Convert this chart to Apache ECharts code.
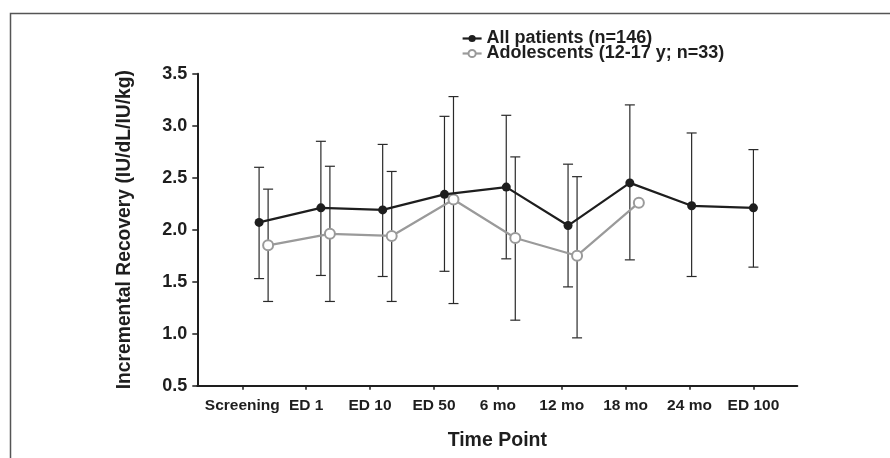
<!DOCTYPE html>
<html>
<head>
<meta charset="utf-8">
<script src="https://cdn.jsdelivr.net/npm/echarts@6/dist/echarts.min.js"></script>
<style>
html,body{margin:0;padding:0;background:#fff;}
#chart{width:890px;height:458px;}
</style>
</head>
<body>
<div id="chart"></div>
<script>
// ---- data ----
const categories = ['Screening', 'ED 1', 'ED 10', 'ED 50', '6 mo', '12 mo', '18 mo', '24 mo', 'ED 100'];
const allMean  = [2.07, 2.21, 2.19, 2.34, 2.41, 2.04, 2.45, 2.23, 2.21];
const allUpper = [2.60, 2.85, 2.82, 3.09, 3.10, 2.63, 3.20, 2.93, 2.77];
const allLower = [1.53, 1.56, 1.55, 1.60, 1.72, 1.45, 1.71, 1.55, 1.64];
const adolMean  = [1.85, 1.96, 1.94, 2.29, 1.92, 1.75, 2.26];
const adolUpper = [2.39, 2.61, 2.56, 3.28, 2.70, 2.51, null];
const adolLower = [1.31, 1.31, 1.31, 1.29, 1.13, 0.96, null];
const yTicks = [0.5, 1.0, 1.5, 2.0, 2.5, 3.0, 3.5];
const seriesNames = ['All patients (n=146)', 'Adolescents (12-17 y; n=33)'];

// ---- layout / style constants ----
const ADOL_SHIFT = 0.146;           // horizontal dodge of the adolescent series (in category units)
const FONT = '"Liberation Sans", Arial, sans-serif';
const INK = '#1e1e1e';
const GREY = '#9a9a9a';

const allPts = allMean.map((v, i) => [i, v]);
const adolPts = adolMean.map((v, i) => [i + ADOL_SHIFT, v]);
const allErr = allMean.map((v, i) => [i, allLower[i], allUpper[i]]);
const adolErr = adolMean
  .map((v, i) => [i + ADOL_SHIFT, adolLower[i], adolUpper[i]])
  .filter(d => d[1] != null && d[2] != null);

function errorBar(params, api) {
  const x = api.value(0);
  const lo = api.coord([x, api.value(1)]);
  const hi = api.coord([x, api.value(2)]);
  const w = 5;
  const style = { stroke: '#2a2a2a', lineWidth: 1.2, fill: null };
  return {
    type: 'group',
    children: [
      { type: 'line', shape: { x1: lo[0], y1: lo[1], x2: hi[0], y2: hi[1] }, style },
      { type: 'line', shape: { x1: lo[0] - w, y1: lo[1], x2: lo[0] + w, y2: lo[1] }, style },
      { type: 'line', shape: { x1: hi[0] - w, y1: hi[1], x2: hi[0] + w, y2: hi[1] }, style }
    ]
  };
}

const legendText = { fontFamily: FONT, fontWeight: 'bold', fontSize: 18, color: INK };

const chart = echarts.init(document.getElementById('chart'), null, { renderer: 'canvas' });
chart.setOption({
  animation: false,
  backgroundColor: '#fff',
  graphic: [{
    type: 'polyline',
    shape: { points: [[10.5, 458], [10.5, 13.5], [890, 13.5]] },
    style: { stroke: '#555', lineWidth: 1.5, fill: null },
    silent: true
  }],
  legend: [
    {
      orient: 'vertical', left: 461.5, top: 29.5, padding: 0,
      itemWidth: 19, itemHeight: 9, itemGap: 0,
      lineStyle: { width: 2.2 },
      data: [seriesNames[0]], textStyle: legendText
    },
    {
      orient: 'vertical', left: 461.5, top: 44.5, padding: 0,
      itemWidth: 19, itemHeight: 9, itemGap: 0,
      lineStyle: { width: 2.2 },
      data: [seriesNames[1]], textStyle: legendText
    }
  ],
  grid: [
    { left: 197.3, right: 92.7, top: 73.7, bottom: 72.3, containLabel: false },
    { left: 210.35, width: 575, top: 73.7, bottom: 72.3, containLabel: false }
  ],
  xAxis: [
    {
      type: 'value', gridIndex: 0, min: -1, max: 8.71,
      axisLine: { show: true, onZero: false, lineStyle: { color: INK, width: 2 } },
      axisTick: { show: false }, axisLabel: { show: false }, splitLine: { show: false },
      name: 'Time Point', nameLocation: 'middle', nameGap: 45,
      nameTextStyle: { fontFamily: FONT, fontWeight: 'bold', fontSize: 19.5, color: INK }
    },
    {
      type: 'category', gridIndex: 1, data: categories, boundaryGap: true,
      axisLine: { show: false },
      axisTick: { show: true, alignWithLabel: true, length: 4, lineStyle: { color: INK, width: 1.5 } },
      axisLabel: { margin: 12, fontFamily: FONT, fontWeight: 'bold', fontSize: 15.5, color: INK, interval: 0 },
      splitLine: { show: false }
    }
  ],
  yAxis: [
    {
      type: 'value', gridIndex: 0, min: yTicks[0], max: yTicks[yTicks.length - 1], interval: 0.5,
      axisLine: { show: true, onZero: false, lineStyle: { color: INK, width: 2 } },
      axisTick: { show: true, length: 5, lineStyle: { color: INK, width: 1.5 } },
      axisLabel: { margin: 10, fontFamily: FONT, fontWeight: 'bold', fontSize: 18, color: INK, formatter: v => v.toFixed(1) },
      splitLine: { show: false },
      name: 'Incremental Recovery (IU/dL/IU/kg)', nameLocation: 'middle', nameGap: 63, nameRotate: 90,
      nameTextStyle: { fontFamily: FONT, fontWeight: 'bold', fontSize: 19.3, color: INK }
    },
    {
      type: 'value', gridIndex: 1, min: 0, max: 1, show: false
    }
  ],
  series: [
    {
      type: 'custom', xAxisIndex: 0, yAxisIndex: 0, renderItem: errorBar, data: allErr, z: 1, silent: true
    },
    {
      type: 'custom', xAxisIndex: 0, yAxisIndex: 0, renderItem: errorBar, data: adolErr, z: 1, silent: true
    },
    {
      name: seriesNames[1], type: 'line', xAxisIndex: 0, yAxisIndex: 0, data: adolPts, z: 3,
      symbol: 'circle', symbolSize: 10,
      lineStyle: { color: GREY, width: 2.2 },
      itemStyle: { color: '#fff', borderColor: GREY, borderWidth: 2 }
    },
    {
      name: seriesNames[0], type: 'line', xAxisIndex: 0, yAxisIndex: 0, data: allPts, z: 4,
      symbol: 'circle', symbolSize: 9,
      lineStyle: { color: INK, width: 2.2 },
      itemStyle: { color: INK, borderWidth: 0 }
    }
  ]
});
</script>
</body>
</html>
